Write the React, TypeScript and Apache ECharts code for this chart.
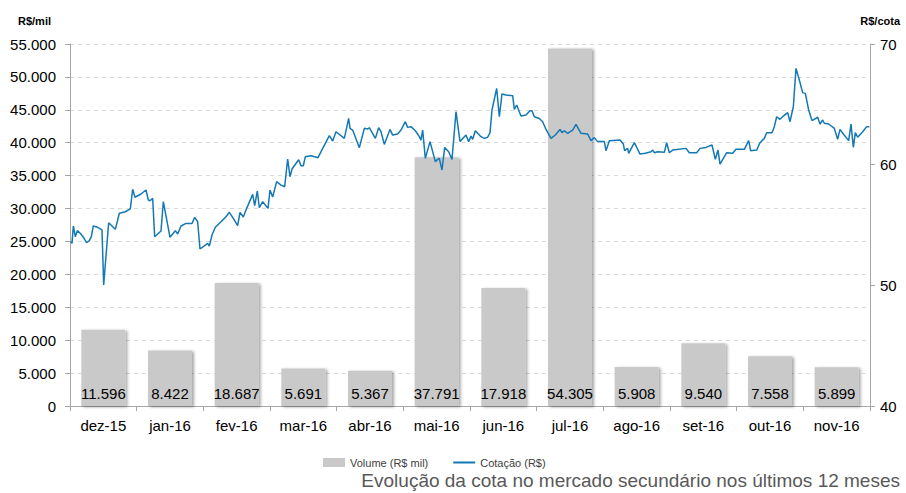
import React, { useEffect, useRef } from "react";
import * as echarts from "echarts";

const months = ["dez-15", "jan-16", "fev-16", "mar-16", "abr-16", "mai-16", "jun-16", "jul-16", "ago-16", "set-16", "out-16", "nov-16"];
const volume = [11596, 8422, 18687, 5691, 5367, 37791, 17918, 54305, 5908, 9540, 7558, 5899];

// Cotação: time in months elapsed since start of dez-15, and price (R$)
const cotacaoT = [
  0.01, 0.03, 0.05, 0.08, 0.11, 0.165, 0.21, 0.25, 0.29, 0.32, 0.35, 0.415, 0.48, 0.505, 0.58, 0.63, 0.68, 0.74, 0.83, 0.905, 0.94, 0.975,
  1.065, 1.14, 1.175, 1.2, 1.24, 1.27, 1.365, 1.4, 1.44, 1.5, 1.58, 1.615, 1.665, 1.74, 1.83, 1.87, 1.915, 1.95,
  2.03, 2.065, 2.09, 2.13, 2.18, 2.265, 2.34, 2.39, 2.45, 2.515, 2.55, 2.6, 2.65, 2.74, 2.77, 2.81, 2.84, 2.89, 2.97,
  3.0, 3.04, 3.1, 3.165, 3.22, 3.265, 3.3, 3.33, 3.43, 3.465, 3.5, 3.53, 3.615, 3.72, 3.89, 3.94, 3.99,
  4.115, 4.18, 4.2, 4.24, 4.34, 4.415, 4.465, 4.49, 4.58, 4.63, 4.665, 4.715, 4.74, 4.8, 4.84, 4.915, 4.965,
  5.03, 5.065, 5.115, 5.18, 5.24, 5.265, 5.29, 5.33, 5.4, 5.48, 5.515, 5.54, 5.58, 5.62, 5.68, 5.73, 5.79, 5.85, 5.94, 5.98,
  6.015, 6.04, 6.08, 6.165, 6.215, 6.265, 6.3, 6.33, 6.4, 6.44, 6.48, 6.54, 6.64, 6.665, 6.7, 6.765, 6.84, 6.9, 6.93, 6.965,
  7.04, 7.09, 7.14, 7.215, 7.28, 7.35, 7.38, 7.415, 7.465, 7.54, 7.59, 7.665, 7.765, 7.815, 7.865, 7.915,
  8.015, 8.04, 8.09, 8.25, 8.3, 8.32, 8.365, 8.38, 8.465, 8.49, 8.55, 8.63, 8.715, 8.74, 8.765, 8.815, 8.915, 8.95, 8.99,
  9.04, 9.24, 9.29, 9.4, 9.45, 9.54, 9.63, 9.68, 9.72, 9.75, 9.85, 9.94, 9.99,
  10.115, 10.18, 10.21, 10.3, 10.35, 10.415, 10.45, 10.53, 10.565, 10.6, 10.65, 10.7, 10.765, 10.8, 10.85, 10.89, 10.94, 10.99,
  11.03, 11.08, 11.13, 11.215, 11.25, 11.29, 11.315, 11.38, 11.465, 11.515, 11.55, 11.6, 11.68, 11.715, 11.75, 11.78, 11.815, 11.89, 11.95, 11.99,
];
const cotacao = [
  53.62, 53.48, 54.92, 54.03, 54.53, 54.25, 53.9, 53.53, 53.7, 54.03, 54.92, 54.81, 54.59, 50.03, 55.19, 54.92, 54.64, 55.97, 56.1, 56.33, 57.96, 57.3,
  57.57, 57.9, 57.07, 57.01, 57.21, 54.03, 54.5, 56.93, 55.75, 53.98, 54.53, 54.25, 54.92, 55.13, 55.13, 55.63, 55.27, 53.01,
  53.34, 53.48, 53.26, 54.17, 54.81, 55.27, 55.69, 56.05, 55.55, 54.94, 56.05, 55.66, 56.38, 57.54, 56.6, 57.82, 56.43, 56.93, 56.38,
  57.9, 57.32, 58.59, 58.31, 58.17, 60.47, 59.0, 59.64, 60.41, 59.91, 59.91, 60.66, 60.74, 60.58, 62.4, 61.96, 62.73,
  62.18, 63.83, 63.01, 62.87, 61.41, 63.01, 62.96, 63.06, 62.18, 63.06, 62.73, 61.68, 62.04, 62.92, 62.45, 62.54, 62.87,
  63.56, 63.09, 63.15, 62.81, 62.32, 62.04, 62.87, 60.52, 61.91, 60.25, 60.44, 60.52, 59.56, 61.43, 61.07, 60.44, 64.39, 61.91, 62.46, 61.91,
  62.37, 62.1, 62.81, 62.32, 62.18, 62.27, 62.65, 64.53, 66.33, 63.97, 65.86, 65.77, 65.72, 64.58, 64.94, 64.03, 64.11, 64.47, 64.47, 63.97,
  63.83, 63.56, 62.92, 62.18, 62.46, 62.92, 62.65, 62.81, 62.6, 62.87, 63.34, 62.6, 62.54, 61.99, 62.24, 61.91,
  61.91, 61.16, 61.99, 62.04, 61.71, 61.16, 61.35, 60.94, 61.82, 61.55, 60.88, 60.94, 61.07, 61.21, 60.99, 61.07, 61.02, 61.82, 60.99,
  61.21, 61.35, 60.99, 60.99, 61.35, 61.43, 61.63, 60.44, 61.21, 60.05, 60.99, 60.94, 61.27,
  61.27, 61.99, 61.16, 61.21, 61.82, 62.18, 62.65, 62.65, 63.15, 63.97, 63.76, 64.03, 64.31, 63.56, 64.8, 67.98, 67.02, 65.97,
  65.91, 64.53, 63.65, 63.93, 63.37, 63.7, 63.43, 63.37, 63.01, 62.1, 62.92, 62.54, 61.99, 63.37, 61.43, 62.65, 62.27, 62.73, 63.15, 63.15,
];

const leftTicks = { min: 0, max: 55000, interval: 5000 };
const rightTicks = { min: 40, max: 70, interval: 10 };

const fmt = (v: number) => String(v).replace(/\B(?=(\d{3})+(?!\d))/g, ".");

export default function App() {
  const ref = useRef<HTMLDivElement>(null);
  useEffect(() => {
    if (!ref.current) return;
    const chart = echarts.init(ref.current, null, { renderer: "svg" });
    const font = "'Liberation Sans', Arial, sans-serif";
    const axisGray = "#a6a6a6";
    chart.setOption({
      animation: false,
      textStyle: { fontFamily: font },
      grid: { left: 70, right: 36, top: 44, bottom: 87, containLabel: false },
      legend: {
        left: 318,
        top: 452,
        itemWidth: 22,
        itemHeight: 9,
        itemGap: 24,
        textStyle: { fontSize: 11, color: "#404040", fontFamily: font },
        data: [
          { name: "Volume (R$ mil)", icon: "rect" },
          { name: "Cotação (R$)", itemStyle: { opacity: 0 } },
        ],
      },
      graphic: [
        { type: "text", left: 18, top: 15, style: { text: "R$/mil", font: `bold 11px ${font}`, fill: "#000" } },
        { type: "text", right: 6, top: 15, style: { text: "R$/cota", font: `bold 11px ${font}`, fill: "#000" } },
        {
          type: "text",
          right: 6,
          top: 471,
          style: { text: "Evolução da cota no mercado secundário nos últimos 12 meses", font: `19px ${font}`, fill: "#595959" },
        },
      ],
      xAxis: [
        {
          type: "category",
          data: months,
          boundaryGap: true,
          axisLine: { lineStyle: { color: axisGray } },
          axisTick: { show: true, length: 5, lineStyle: { color: axisGray } },
          axisLabel: { color: "#000", fontSize: 15, margin: 12, fontFamily: font },
          splitLine: { show: false },
        },
        {
          type: "value",
          min: 0,
          max: 12,
          show: false,
          splitLine: { show: false },
        },
      ],
      yAxis: [
        {
          type: "value",
          ...leftTicks,
          axisLine: { show: true, lineStyle: { color: axisGray } },
          axisTick: { show: true, length: 5, lineStyle: { color: axisGray } },
          axisLabel: { color: "#000", fontSize: 15, margin: 14, formatter: (v: number) => fmt(v), fontFamily: font },
          splitLine: { show: true, lineStyle: { color: "#d9d9d9", type: [4, 4] } },
        },
        {
          type: "value",
          ...rightTicks,
          position: "right",
          axisLine: { show: true, lineStyle: { color: axisGray } },
          axisTick: { show: true, length: 5, lineStyle: { color: axisGray } },
          axisLabel: { color: "#000", fontSize: 15, margin: 10, fontFamily: font },
          splitLine: { show: false },
        },
      ],
      series: [
        {
          name: "Volume (R$ mil)",
          type: "bar",
          xAxisIndex: 0,
          yAxisIndex: 0,
          data: volume,
          barWidth: "66%",
          itemStyle: {
            color: "#c9c9c9",
            shadowColor: "rgba(0,0,0,0.35)",
            shadowBlur: 3,
            shadowOffsetX: 2,
            shadowOffsetY: 1,
          },
          label: {
            show: true,
            position: "insideBottom",
            distance: 5,
            color: "#000",
            fontSize: 15,
            fontFamily: font,
            formatter: (p: any) => fmt(p.value),
          },
          z: 1,
        },
        {
          name: "Cotação (R$)",
          type: "line",
          xAxisIndex: 1,
          yAxisIndex: 1,
          data: cotacaoT.map((t, i) => [t, cotacao[i]]),
          symbol: "none",
          lineStyle: { color: "#1478b4", width: 1.5 },
          itemStyle: { color: "#1478b4" },
          z: 3,
        },
      ],
    });
    return () => chart.dispose();
  }, []);
  return <div ref={ref} style={{ width: 906, height: 493, position: "absolute", left: 0, top: 0 }} />;
}
